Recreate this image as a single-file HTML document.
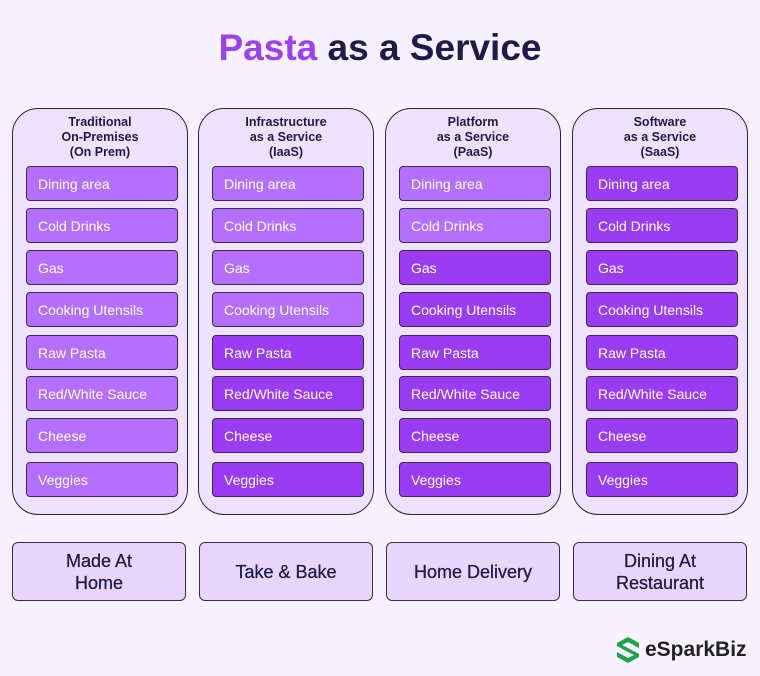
<!DOCTYPE html>
<html><head><style>
body{margin:0;width:760px;height:676px;background:#f7f2fd;font-family:"Liberation Sans",sans-serif;position:relative;overflow:hidden}
.t{position:absolute;top:27px;left:0;width:760px;text-align:center;font-size:37px;font-weight:bold;color:#1f1a4a}
.t span{color:#9b41f0}
.col{position:absolute;top:108px;width:174px;height:405px;border:1.5px solid #2a2346;border-radius:26px;background:#efe2fd}
.h{position:absolute;top:6px;left:0;width:100%;text-align:center;font-size:12.5px;font-weight:bold;line-height:15px;color:#1f1a4a}
.it{position:absolute;left:13px;width:152px;height:35px;border:1.2px solid #3a2a5a;border-radius:4px;color:#fff;font-size:14px;line-height:35px;box-sizing:border-box;padding-left:11px}
.l{background:#b470fc}.d{background:#9a3cf1}
.b{position:absolute;top:542px;width:174px;height:59px;border:1.3px solid #3a2a5a;border-radius:6px;background:#e8d6fd;display:flex;align-items:center;justify-content:center;text-align:center;font-size:18px;color:#1f1a4a;line-height:22px;box-sizing:border-box;-webkit-text-stroke:0.3px #1f1a4a}
.logo{position:absolute;left:615px;top:636px;font-size:21px;font-weight:bold;color:#222;display:flex;align-items:center}
</style></head><body>
<div class="t"><span>Pasta</span> as a Service</div>
<div id="cols"></div>
<div class="b" style="left:12px">Made At<br>Home</div>
<div class="b" style="left:199px">Take &amp; Bake</div>
<div class="b" style="left:386px">Home Delivery</div>
<div class="b" style="left:573px">Dining At<br>Restaurant</div>
<div class="logo"><svg width="26" height="28" viewBox="0 0 26 28"><path d="M13 1 L24 7 L24 12 L13 6 L7 9 L13 12 L24 18 L24 21 L13 27 L2 21 L2 16 L13 22 L19 19 L13 16 L2 10 L2 7 Z" fill="#1aa34a"/></svg><span style="margin-left:4px">eSparkBiz</span></div>
<script>
var heads=["Traditional<br>On-Premises<br>(On Prem)","Infrastructure<br>as a Service<br>(IaaS)","Platform<br>as a Service<br>(PaaS)","Software<br>as a Service<br>(SaaS)"];
var items=["Dining area","Cold Drinks","Gas","Cooking Utensils","Raw Pasta","Red/White Sauce","Cheese","Veggies"];
var tops=[57,99,141,183,226,267,309,353];
var light=[8,4,2,0];
var xs=[12,198,385,572];
var h="";
for(var c=0;c<4;c++){
 h+='<div class="col" style="left:'+xs[c]+'px"><div class="h">'+heads[c]+'</div>';
 for(var i=0;i<8;i++){h+='<div class="it '+(i<light[c]?'l':'d')+'" style="top:'+tops[i]+'px">'+items[i]+'</div>';}
 h+='</div>';
}
document.getElementById('cols').innerHTML=h;
</script>
</body></html>
